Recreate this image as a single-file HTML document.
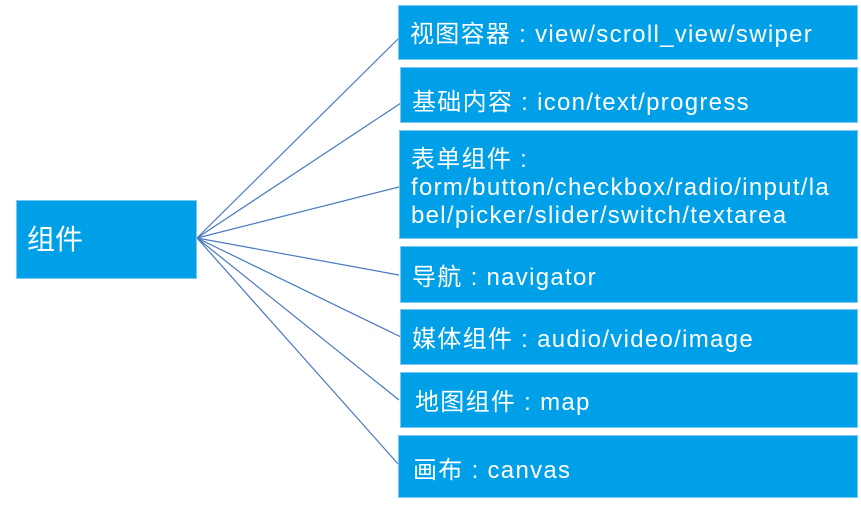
<!DOCTYPE html>
<html><head><meta charset="utf-8"><style>
body{margin:0;width:861px;height:506px;background:#fff;position:relative;overflow:hidden;font-family:"Liberation Sans","Noto Sans CJK SC",sans-serif;}
.b{position:absolute;background:#00a0e9;color:#fff;font-size:24px;box-sizing:border-box;border:1px solid #7cc8f0;line-height:28px;padding-left:11px;padding-top:5px;display:flex;align-items:center;white-space:nowrap;letter-spacing:1.3px}
svg{position:absolute;left:0;top:0}
</style></head><body>
<svg width="861" height="506"><g stroke="#4a78c0" stroke-width="1.2" fill="none">
<line x1="197" y1="238" x2="399" y2="38"/>
<line x1="197" y1="238" x2="401" y2="103"/>
<line x1="197" y1="238" x2="399" y2="187"/>
<line x1="197" y1="238" x2="399" y2="275"/>
<line x1="197" y1="238" x2="401" y2="337"/>
<line x1="197" y1="238" x2="399" y2="400"/>
<line x1="197" y1="238" x2="399" y2="465"/>
</g></svg>
<div class="b" style="left:16px;top:200px;width:181px;height:79px;font-size:28px;padding-left:10px;padding-top:0;letter-spacing:0">组件</div>
<div class="b" style="left:398px;top:5px;width:460px;height:55px">视图容器 : view/scroll_view/swiper</div>
<div class="b" style="left:400px;top:67px;width:458px;height:56px;padding-top:16px">基础内容 : icon/text/progress</div>
<div class="b" style="left:399px;top:130px;width:459px;height:109px;white-space:normal;line-height:28px;padding-top:6px">表单组件 :<br>form/button/checkbox/radio/input/la<br>bel/picker/slider/switch/textarea</div>
<div class="b" style="left:400px;top:246px;width:458px;height:57px;padding-top:6px">导航 : navigator</div>
<div class="b" style="left:400px;top:309px;width:458px;height:56px;padding-top:6px">媒体组件 : audio/video/image</div>
<div class="b" style="left:400px;top:372px;width:458px;height:56px;padding-left:14px">地图组件 : map</div>
<div class="b" style="left:398px;top:435px;width:460px;height:63px;padding-left:14px;padding-top:8px">画布 : canvas</div>
</body></html>
